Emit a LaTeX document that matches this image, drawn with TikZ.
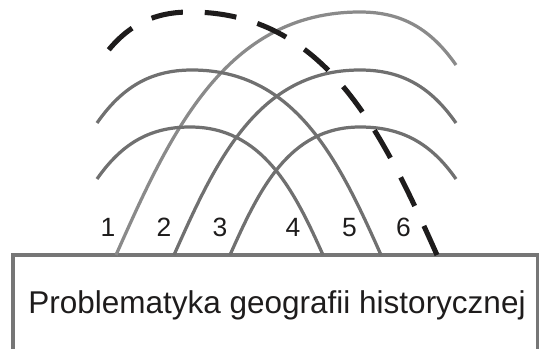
\documentclass[tikz,border=0pt]{standalone}
\usepackage{fontspec}
\setmainfont{Liberation Sans}
\definecolor{ArcGray}{RGB}{112,112,112}
\definecolor{LightArc}{RGB}{138,138,138}
\definecolor{FrameGray}{RGB}{118,118,118}
\definecolor{Ink}{RGB}{30,28,28}
\tikzset{
  wave/.style={draw=ArcGray,line width=2.3pt},
  wavelight/.style={wave,draw=LightArc},
  trend/.style={draw=Ink,line width=3.6pt,dash pattern=on 22.7pt off 15.6pt},
  topicbox/.style={draw=FrameGray,line width=2.5pt},
  num/.style={font=\fontsize{18.8}{20}\selectfont,text=Ink,anchor=base,inner sep=0pt},
  topictext/.style={font=\fontsize{22.4}{26}\selectfont,text=Ink,anchor=base,inner sep=0pt}
}
\begin{document}
\begin{tikzpicture}[x=0.025cm,y=0.025cm]
  \useasboundingbox (0,0) rectangle (540,349);
  \clip (0,0) rectangle (540,349);
  % base line points
  \coordinate (b1) at (116,94);
  \coordinate (b2) at (174,94);
  \coordinate (b3) at (230,94);
  \coordinate (b4) at (323,94);
  \coordinate (b5) at (381,94);
  \coordinate (b6) at (437,94);
  \draw[topicbox] (13,94) rectangle (537.5,-20);
  \node[topictext] (topic) at (277,35) {Problematyka geografii historycznej};
  % arcs rising to the right
  \draw[wavelight] (b1) to[out=66,in=180] (360,337) to[out=0,in=125] (456,284);
  \draw[wave] (b2) to[out=66,in=180] (360,279) to[out=0,in=125] (456,226);
  \draw[wave] (b3) to[out=66,in=180] (360,222) to[out=0,in=125] (456,170);
  % arcs rising to the left
  \draw[wave] (97,170) to[out=55,in=180] (190,222) to[out=0,in=114] (b4);
  \draw[wave] (97,226) to[out=55,in=180] (192,279) to[out=0,in=114] (b5);
  \draw[trend] (b6) to[out=114,in=0] (190,337) to[out=180,in=55] (101,289);
  \foreach \i/\x in {1/108,2/164,3/220,4/293,5/349.5,6/403.5}
    \node[num] (n\i) at (\x,112) {\i};
\end{tikzpicture}
\end{document}
